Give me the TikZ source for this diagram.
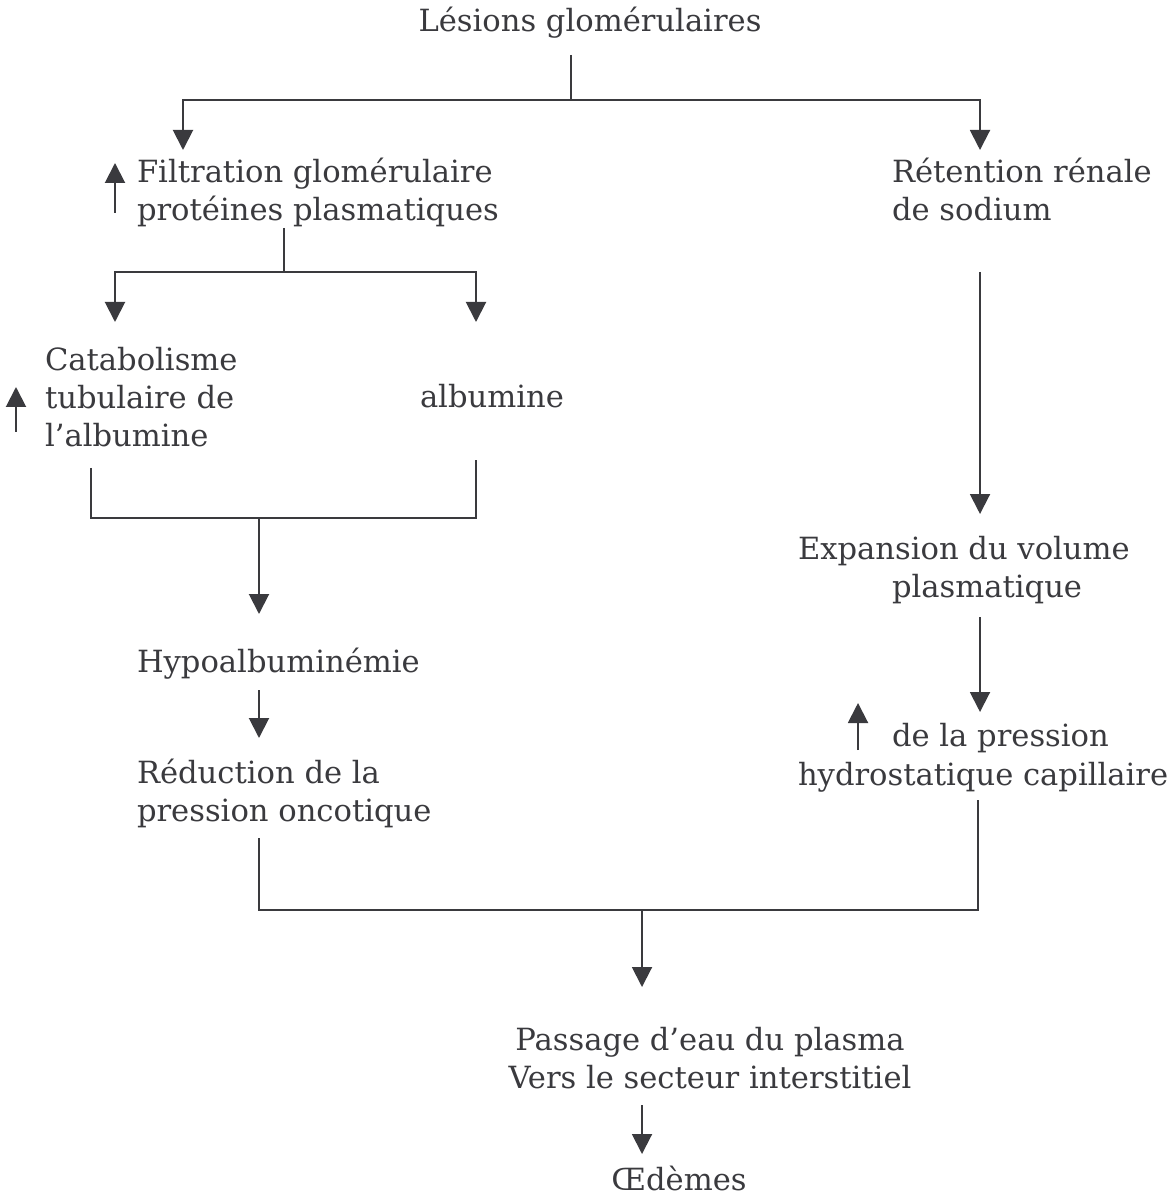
\documentclass[tikz,border=0pt]{standalone}
\usepackage{fontspec}
\setmainfont{DejaVu Serif}
\usetikzlibrary{arrows.meta}
\definecolor{ink}{HTML}{3A3A3E}
\begin{document}
\begin{tikzpicture}[x=0.5pt,y=-0.5pt,
  txt/.style={inner sep=0pt,outer sep=0pt,text=ink,font=\fontsize{15.3}{19}\selectfont,align=left},
  ln/.style={draw=ink,line width=1pt},
  arr/.style={ln,-{Triangle[width=10pt,length=10pt]},color=ink}]
\useasboundingbox (0,0) rectangle (1173,1202);
% texts (base = baseline of last line)
\node[txt,anchor=base] (t0) at (590,32) {Lésions glomérulaires};
\node[txt,anchor=base west] (t1) at (137,221) {Filtration glomérulaire\\protéines plasmatiques};
\node[txt,anchor=base west] (t2) at (892,221) {Rétention rénale\\de sodium};
\node[txt,anchor=base west] (t3) at (45,447) {Catabolisme\\tubulaire de\\l’albumine};
\node[txt,anchor=base west] (t4) at (420,408) {albumine};
\node[txt,anchor=base west] (t5) at (798,597) {Expansion du volume\\\hspace*{47pt}plasmatique};
\node[txt,anchor=base west] (t6) at (137,672) {Hypoalbuminémie};
\node[txt,anchor=base west] (t7) at (137,821) {Réduction de la\\pression oncotique};
\node[txt,anchor=base west] (t8a) at (892,746) {de la pression};
\node[txt,anchor=base west] (t8b) at (798,785) {hydrostatique capillaire};
\node[txt,anchor=base,align=center] (t9) at (710,1088) {Passage d’eau du plasma\\Vers le secteur interstitiel};
\node[txt,anchor=base] (t10) at (679,1190) {Œdèmes};
% coordinates
\coordinate (a0) at (571,55);
\coordinate (a1) at (571,100);
\coordinate (aL) at (183,100);
\coordinate (aR) at (980,100);
\coordinate (aLe) at (183,150);
\coordinate (aRe) at (980,150);
\coordinate (u1s) at (115,213);
\coordinate (u1e) at (115,163);
\coordinate (b0) at (284,228);
\coordinate (b1) at (284,272);
\coordinate (bL) at (115,272);
\coordinate (bR) at (476,272);
\coordinate (bLe) at (115,322);
\coordinate (bRe) at (476,322);
\coordinate (u2s) at (16,432);
\coordinate (u2e) at (16,387);
\coordinate (c0) at (91,468);
\coordinate (c1) at (91,518);
\coordinate (c2) at (476,460);
\coordinate (c3) at (476,518);
\coordinate (c4) at (259,518);
\coordinate (c5) at (259,614);
\coordinate (r0) at (980,272);
\coordinate (r1) at (980,514);
\coordinate (r2) at (980,617);
\coordinate (r3) at (980,712);
\coordinate (u3s) at (858,750);
\coordinate (u3e) at (858,703);
\coordinate (h0) at (259,690);
\coordinate (h1) at (259,738);
\coordinate (d0) at (259,838);
\coordinate (d1) at (259,910);
\coordinate (d2) at (978,800);
\coordinate (d3) at (978,910);
\coordinate (d4) at (642,910);
\coordinate (d5) at (642,987);
\coordinate (e0) at (642,1105);
\coordinate (e1) at (642,1154);
% connectors
\draw[ln] (a0) -- (a1);
\draw[arr] (a1) -- (aL) -- (aLe);
\draw[arr] (a1) -- (aR) -- (aRe);
\draw[arr] (u1s) -- (u1e);
\draw[ln] (b0) -- (b1);
\draw[arr] (b1) -- (bL) -- (bLe);
\draw[arr] (b1) -- (bR) -- (bRe);
\draw[arr] (u2s) -- (u2e);
\draw[ln] (c0) -- (c1) -- (c3) -- (c2);
\draw[arr] (c4) -- (c5);
\draw[arr] (r0) -- (r1);
\draw[arr] (r2) -- (r3);
\draw[arr] (u3s) -- (u3e);
\draw[arr] (h0) -- (h1);
\draw[ln] (d0) -- (d1) -- (d3) -- (d2);
\draw[arr] (d4) -- (d5);
\draw[arr] (e0) -- (e1);
\end{tikzpicture}
\end{document}
